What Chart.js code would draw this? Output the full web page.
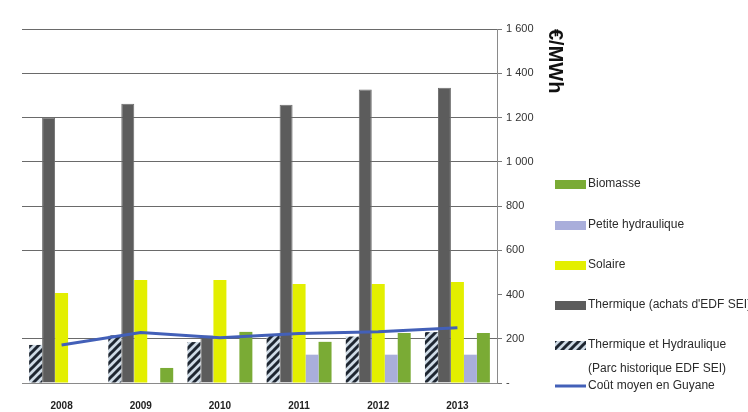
<!DOCTYPE html>
<html>
<head>
<meta charset="utf-8">
<script src="https://cdn.jsdelivr.net/npm/chart.js@4.4.1/dist/chart.umd.min.js"></script>
<style>
html,body{margin:0;padding:0;background:#fff;}
#wrap{position:relative;width:748px;height:412px;}
</style>
</head>
<body>
<div id="wrap"><canvas id="c" width="748" height="412"></canvas></div>
<script>
const years = ['2008','2009','2010','2011','2012','2013'];
const thermHydroHist = [172, 215, 185, 215, 210, 230];
const thermAchats = [1200, 1262, 215, 1258, 1326, 1335];
const solaire = [407, 466, 466, 448, 448, 457];
const petiteHydro = [null, null, null, 128, 128, 128];
const biomasse = [null, 68, 231, 186, 226, 226];
const coutMoyen = [172, 228, 204, 224, 232, 250];
const yTicks = [0, 200, 400, 600, 800, 1000, 1200, 1400, 1600];

const labelThermHist = ['Thermique et Hydraulique', '(Parc historique EDF SEI)'];
const labelAchats = "Thermique (achats d'EDF SEI)";
const labelSolaire = 'Solaire';
const labelPetite = 'Petite hydraulique';
const labelBio = 'Biomasse';
const labelCout = 'Coût moyen en Guyane';
const yTitle = '€/MWh';

function makeHatch() {
  const t = document.createElement('canvas');
  t.width = 8; t.height = 8;
  const g = t.getContext('2d');
  g.fillStyle = '#cfdbe6';
  g.fillRect(0, 0, 8, 8);
  g.strokeStyle = '#1e2631';
  g.lineWidth = 3;
  g.beginPath();
  g.moveTo(-2, 10); g.lineTo(10, -2);
  g.moveTo(-6, 6); g.lineTo(6, -6);
  g.moveTo(2, 14); g.lineTo(14, 2);
  g.stroke();
  return g.createPattern(t, 'repeat');
}
const hatch = makeHatch();

const legendPlugin = {
  id: 'sideLegend',
  afterDraw(chart) {
    const ctx = chart.ctx;
    const ds = chart.data.datasets;
    const x0 = 555, tx = 588;
    const items = [
      {d: ds[4], y: 184},
      {d: ds[3], y: 225},
      {d: ds[2], y: 265},
      {d: ds[1], y: 305},
      {d: ds[0], y: 345},
      {d: ds[5], y: 386}
    ];
    ctx.save();
    ctx.font = '12px "Liberation Sans", sans-serif';
    ctx.textBaseline = 'middle';
    items.forEach(it => {
      const d = it.d;
      if (d.type === 'line') {
        ctx.strokeStyle = d.borderColor;
        ctx.lineWidth = 3;
        ctx.beginPath(); ctx.moveTo(x0, it.y); ctx.lineTo(x0 + 31, it.y); ctx.stroke();
      } else {
        ctx.fillStyle = d.backgroundColor;
        ctx.fillRect(x0, it.y - 4, 31, 9);
      }
      ctx.fillStyle = '#2b2b2b';
      const lab = Array.isArray(d.label) ? d.label : [d.label];
      lab.forEach((l, i) => ctx.fillText(l, tx, it.y + i * 24));
    });
    ctx.restore();
  }
};

const ctx = document.getElementById('c').getContext('2d');
new Chart(ctx, {
  data: {
    labels: years,
    datasets: [
      {type: 'bar', label: labelThermHist, data: thermHydroHist, backgroundColor: hatch, order: 2},
      {type: 'bar', label: labelAchats, data: thermAchats, backgroundColor: '#5c5c5c', borderColor: '#6e6e6e', borderWidth: 1, order: 2},
      {type: 'bar', label: labelSolaire, data: solaire, backgroundColor: '#e3ef00', order: 2},
      {type: 'bar', label: labelPetite, data: petiteHydro, backgroundColor: '#a9aedb', order: 2},
      {type: 'bar', label: labelBio, data: biomasse, backgroundColor: '#7aab35', order: 2},
      {type: 'line', label: labelCout, data: coutMoyen, borderColor: '#4360b8', borderWidth: 3, pointRadius: 0, tension: 0, order: 1}
    ]
  },
  options: {
    responsive: false,
    animation: false,
    layout: {padding: {left: 22, right: 181, top: 29, bottom: 0}},
    datasets: {bar: {categoryPercentage: 0.82, barPercentage: 1.0}},
    plugins: {legend: {display: false}, tooltip: {enabled: false}},
    scales: {
      x: {
        afterFit(scale) { scale.height = 29; },
        grid: {display: false, drawTicks: false},
        border: {display: true, color: '#8a8a8a'},
        ticks: {color: '#222', font: {family: '"Liberation Sans Narrow", "Liberation Sans", sans-serif', size: 10, weight: 'bold'}, padding: 17}
      },
      y: {
        position: 'right',
        min: 0, max: 1600,
        afterBuildTicks(scale) { scale.ticks = yTicks.map(v => ({value: v})); },
        afterFit(scale) { scale.width = 70; },
        grid: {
          color: (c) => (c.tick && c.tick.value === 400) ? 'rgba(0,0,0,0)' : '#6a6a6a',
          lineWidth: 1, tickLength: 5, tickColor: '#777'
        },
        border: {display: true, color: '#8a8a8a'},
        ticks: {
          color: '#333', padding: 4,
          font: {family: '"Liberation Sans Narrow", "Liberation Sans", sans-serif', size: 11},
          callback: (v) => v === 0 ? '-' : v.toLocaleString('fr-FR').replace(/\s/g, ' ')
        },
        title: {display: true, text: yTitle, align: 'end', color: '#111', font: {family: '"Liberation Sans", sans-serif', size: 20, weight: 'bold'}, padding: {top: 0, bottom: 0}}
      }
    }
  },
  plugins: [legendPlugin]
});
</script>
</body>
</html>
